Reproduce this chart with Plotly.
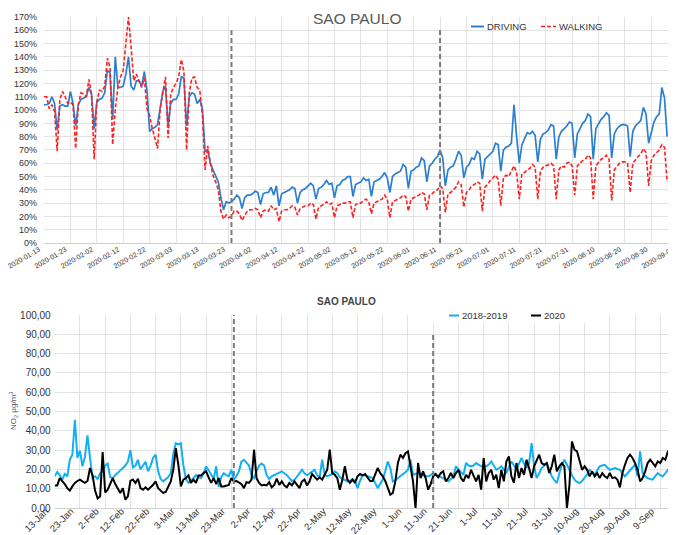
import plotly.graph_objects as go
import pandas as pd

# ---------------- DATA ----------------
top_start = "2020-01-13"
driving = [104, 104, 105, 110, 105, 85, 103, 104, 103, 103, 114, 105, 88, 104, 108, 109, 110, 117, 112, 86,
           106, 108, 109, 113, 130, 128, 93, 140, 117, 117, 118, 127, 140, 118, 115, 122, 122, 118, 129, 115,
           84, 86, 87, 89, 101, 114, 118, 88, 105, 108, 108, 112, 125, 124, 88, 110, 113, 112, 105, 108,
           101, 69, 70, 60, 55, 50, 46, 34, 25, 31, 30, 31, 33, 36, 34,
           26, 34, 36, 36, 37, 39, 38,
           29, 37, 38, 38, 42, 36, 43,
           28, 37, 38, 39, 40, 42, 41,
           30, 38, 40, 41, 43, 45, 43,
           33, 41, 42, 44, 47, 44, 45,
           34, 43, 44, 47, 48, 50, 50,
           35, 44, 45, 46, 49, 47, 48,
           35, 46, 47, 48, 50, 53, 49,
           38, 50, 52, 53, 54, 59, 57,
           41, 54, 55, 57, 58, 64, 62,
           46, 58, 60, 63, 65, 70, 64,
           43, 55, 57, 58, 63, 69, 66,
           49, 57, 59, 64, 63, 69, 67,
           48, 63, 65, 67, 69, 75, 74,
           54, 70, 72, 73, 75, 104, 80,
           60, 74, 78, 83, 82, 84, 81,
           61, 78, 82, 83, 85, 89, 88,
           63, 80, 84, 86, 88, 91, 90,
           64, 82, 86, 90, 92, 97, 95,
           63, 86, 90, 93, 95, 98, 96,
           64, 82, 86, 88, 89, 89, 88,
           65, 84, 88, 90, 92, 102, 97,
           75, 84, 91, 95, 97, 117, 109, 80]
walking = [110, 110, 101, 104, 99, 69, 108, 114, 110, 105, 106, 104, 71, 104, 113, 112, 110, 123, 112, 63,
           106, 115, 114, 118, 139, 132, 74, 101, 117, 125, 130, 153, 170, 147, 122, 127, 122, 117, 124, 101,
           96, 86, 79, 71, 101, 114, 125, 79, 112, 117, 120, 125, 138, 129, 70, 113, 124, 125, 117, 115,
           96, 55, 73, 60, 51, 46, 40, 24, 18, 21, 19, 20, 24, 24, 22,
           17, 21, 24, 25, 25, 26, 25,
           19, 24, 25, 24, 28, 25, 26,
           16, 24, 25, 25, 26, 28, 27,
           21, 26, 27, 28, 28, 30, 29,
           18, 27, 28, 29, 31, 29, 30,
           19, 28, 29, 30, 30, 31, 31,
           19, 29, 30, 30, 32, 33, 31,
           22, 30, 31, 32, 33, 36, 33,
           19, 31, 32, 33, 34, 36, 35,
           24, 33, 34, 35, 36, 38, 37,
           25, 36, 37, 39, 40, 43, 41,
           23, 37, 38, 40, 42, 46, 44,
           27, 38, 40, 43, 44, 46, 45,
           24, 42, 44, 47, 49, 51, 48,
           28, 49, 51, 50, 54, 58, 53,
           33, 52, 53, 55, 56, 59, 57,
           33, 54, 57, 58, 59, 60, 58,
           33, 55, 58, 57, 60, 61, 58,
           36, 58, 60, 62, 63, 66, 64,
           33, 58, 61, 63, 64, 66, 63,
           32, 55, 58, 60, 61, 61, 60,
           38, 60, 63, 65, 67, 71, 68,
           43, 62, 66, 68, 70, 74, 72, 46]

bottom_start = "2020-01-13"
no2_2018_2019 = [16.4, 18.6, 17, 14.7, 17.6, 16.4, 25, 27.6, 45.7, 25.9, 29.7, 21.6, 26.7, 37.6, 25.9, 15.5, 16.4, 15, 18, 19,
                 22, 23, 16, 15.5, 17, 18.5, 19.5, 20.7, 22, 24, 30, 21, 22, 25, 20, 22, 24, 19, 22, 26,
                 27.6, 19, 15, 13.8, 15, 16, 18, 28, 33.6, 33, 33.6, 22, 15, 13, 14, 15.5, 17, 16, 15.5, 18,
                 21.6, 19.5, 17, 15, 21.6, 11, 16, 18, 17, 16.5, 19.8, 14.7, 16.5, 19, 24, 25, 23.5, 22, 17, 15.5,
                 19, 22, 23, 22, 17, 15, 16.4, 17, 18, 18.5, 19, 18, 17, 15.5, 14, 14.5, 16, 18, 19.8, 18,
                 17, 18, 19, 19.8, 17, 16, 25, 17, 16.5, 17, 17.5, 19, 18, 16, 15, 14.5, 13.8, 14, 15, 14,
                 10.3, 14, 16.9, 17, 16.4, 16, 15.5, 13, 10.3, 12.5, 14.7, 19, 24.1, 20.7, 13.8, 14.5, 15.5, 16.5, 17.2, 18.5,
                 19.8, 25, 17.2, 17.5, 18.1, 17.5, 16.9, 16.5, 16.4, 17, 18.1, 17, 16.4, 16, 15.5, 14.5, 13.8, 15, 16.4, 21.6,
                 19.8, 18.5, 17.2, 23.3, 22, 21.6, 22, 23.3, 22.5, 21.6, 21.6, 21.6, 22.5, 24.1, 22, 19.8, 20.5, 21.6, 20, 18.1,
                 21, 24.1, 22, 19.8, 23, 25.9, 23, 20.7, 23.3, 33.6, 21.6, 15.5, 18, 20.7, 22, 23.3, 20, 16.4, 14.5, 12.9,
                 18, 22.4, 25, 22, 19.8, 17, 14.7, 13.5, 12.9, 14, 15.5, 17.5, 19.8, 18.5, 17.2, 19.5, 21.6, 22, 22.4, 21,
                 19.8, 20.2, 20.7, 20.2, 19.8, 18, 16.4, 18, 19.8, 21, 22.4, 16.4, 29.3, 18.1, 16.5, 15.5, 15, 14.7, 16.5, 18.1,
                 17, 16.4, 18, 19.8, 20.5, 21.6, 19, 17.2, 19.8]
no2_2020 = [11.7, 11.7, 15.5, 14, 12.4, 10.3, 9, 11.2, 13, 14, 14.7, 13.8, 13, 14, 20.7, 17, 9, 5, 6, 29,
            8, 9.5, 13, 15.5, 12.4, 10.3, 7.8, 10.3, 4.3, 6, 14, 14.7, 13, 15.2, 10.3, 9.5, 10.7, 9.5, 10.7, 12,
            13.8, 10.3, 9, 7.8, 8.3, 11.2, 13.8, 19.8, 31, 22.4, 11.2, 14.7, 15.5, 16.9, 13, 14.7, 13, 16.9, 16.9, 18.1,
            19, 15.9, 13, 15.5, 12.4, 15.5, 11.2, 11.2, 11.7, 12, 15.5, 13.8, 14, 13, 12.4, 10.3, 13.4, 13, 14.7, 30.2,
            15.5, 13, 11.7, 12, 11.7, 13.4, 10.7, 12, 15.2, 12, 13.8, 11.7, 10.7, 13, 11.7, 13.8, 11.7, 10.3, 13.8, 14.7,
            11.7, 13.8, 17.6, 16.4, 14.7, 15.9, 14.7, 17.2, 19.8, 30.2, 18.1, 17.2, 15.5, 9.5, 14.7, 21.6, 14.7, 13, 14.7, 13,
            16.4, 17.6, 16.9, 17.6, 15.5, 14, 14, 17.2, 20.7, 18.1, 16.4, 14, 10.3, 6.9, 7.8, 13.8, 23.3, 27.6, 25.9, 28.4,
            29.3, 22.4, 13.8, 0, 23.3, 15.5, 19, 15.5, 9.5, 12.4, 16.4, 17.6, 15.9, 18.1, 19, 13.8, 15.5, 18.1, 15.5, 18.1,
            19.8, 15.5, 13.8, 17.2, 15.5, 19.8, 16.4, 13.8, 17.2, 9.5, 25.9, 13.8, 18.1, 19.8, 14.7, 17.2, 10.3, 19.8, 13.8, 24.1,
            26.7, 16.4, 13, 23.3, 15.5, 20.7, 17.2, 25, 20.7, 15.5, 21.6, 25, 27.6, 23.3, 22.4, 23.3, 18.1, 21.6, 27.6, 19,
            21.6, 23.3, 21.6, 0, 12, 34.5, 30.2, 29.3, 24.1, 19.8, 21.6, 19.8, 16.4, 19, 16.4, 18.1, 15.5, 18.1, 16.4, 15.5,
            18.1, 15.5, 15.9, 14.7, 10.7, 18.1, 22.4, 25.9, 27.6, 25.9, 23.3, 19.8, 13.8, 15.5, 19, 23.3, 25, 23.3, 21.6, 24.1,
            23.3, 25.9, 25, 29.3, 31, 26.7, 19.8, 25, 19.8]

top_tick_dates = ["2020-01-13", "2020-01-23", "2020-02-02", "2020-02-12", "2020-02-22", "2020-03-03",
                  "2020-03-13", "2020-03-23", "2020-04-02", "2020-04-12", "2020-04-22", "2020-05-02",
                  "2020-05-12", "2020-05-22", "2020-06-01", "2020-06-11", "2020-06-21", "2020-07-01",
                  "2020-07-11", "2020-07-21", "2020-07-31", "2020-08-10", "2020-08-20", "2020-08-30",
                  "2020-09-09"]
bottom_tick_labels = ["13-Jan", "23-Jan", "2-Feb", "12-Feb", "22-Feb", "3-Mar", "13-Mar", "23-Mar",
                      "2-Apr", "12-Apr", "22-Apr", "2-May", "12-May", "22-May", "1-Jun", "11-Jun",
                      "21-Jun", "1-Jul", "11-Jul", "21-Jul", "31-Jul", "10-Aug", "20-Aug", "30-Aug", "9-Sep"]
event_dates = ["2020-03-24", "2020-06-11"]

top_range = ["2020-01-13", "2020-09-10 06:00"]
bottom_range = ["2020-01-13", "2020-09-17 05:00"]

# ---------------- FIGURE ----------------
W, H = 676, 535
FONT = "Liberation Sans, Arial, Helvetica, sans-serif"
BLUE = "#2b7fd0"
RED = "#ff2020"
LBLUE = "#12b0f2"
GRID = "#e3e3e3"

top_x = pd.date_range(top_start, periods=len(driving), freq="D")
bot_x = pd.date_range(bottom_start, periods=len(no2_2020), freq="D")

fig = go.Figure()
fig.add_trace(go.Scatter(x=top_x, y=driving, mode="lines", name="DRIVING",
                         line=dict(color=BLUE, width=1.7), xaxis="x", yaxis="y"))
fig.add_trace(go.Scatter(x=top_x, y=walking, mode="lines", name="WALKING",
                         line=dict(color=RED, width=1.6, dash="4px,2px"), xaxis="x", yaxis="y"))
fig.add_trace(go.Scatter(x=bot_x, y=no2_2018_2019, mode="lines", name="2018-2019",
                         line=dict(color=LBLUE, width=2), xaxis="x2", yaxis="y2"))
fig.add_trace(go.Scatter(x=bot_x, y=no2_2020, mode="lines", name="2020",
                         line=dict(color="#000000", width=2), xaxis="x2", yaxis="y2"))


def px(x):
    return x / W


def py(y):
    return 1 - y / H


tick_font = dict(family=FONT, size=9, color="#333333")

fig.update_layout(
    width=W, height=H, autosize=False,
    margin=dict(l=0, r=0, t=0, b=0),
    paper_bgcolor="white", plot_bgcolor="white",
    showlegend=False,
    separators=",.",
    font=dict(family=FONT, color="#333333"),
    xaxis=dict(domain=[px(36), px(673)], range=top_range, type="date",
               tickvals=top_tick_dates, ticktext=top_tick_dates, tickangle=-30,
               tickfont=dict(family=FONT, size=7, color="#333333"),
               showgrid=True, gridcolor=GRID, gridwidth=1, zeroline=False,
               showline=True, linecolor="#d0d0d0", automargin=False, anchor="y",
               ticklabelshift=-5, ticklabelstandoff=-1, ticklabeloverflow="allow"),
    yaxis=dict(domain=[py(235), py(9)], range=[0, 170], dtick=10, ticksuffix="%",
               tickfont=tick_font, showgrid=True, gridcolor=GRID, gridwidth=1,
               zeroline=False, automargin=False, anchor="x", ticklabelstandoff=6),
    xaxis2=dict(domain=[px(46.7), px(673)], range=bottom_range, type="date",
                tickvals=top_tick_dates, ticktext=bottom_tick_labels, tickangle=-45,
                tickfont=dict(family=FONT, size=9.5, color="#333333"),
                showgrid=True, gridcolor=GRID, gridwidth=1, zeroline=False,
                showline=True, linecolor="#d0d0d0", automargin=False, anchor="y2",
                ticklabelshift=-9, ticklabelstandoff=-7, ticklabeloverflow="allow"),
    yaxis2=dict(domain=[py(500), py(307)], range=[0, 100], dtick=10, tickformat=".2f",
                tickfont=dict(family=FONT, size=10, color="#333333"),
                showgrid=True, gridcolor=GRID, gridwidth=1, zeroline=False,
                automargin=False, anchor="x2", ticklabelstandoff=3),
)

shapes = []
for d in event_dates:
    shapes.append(dict(type="line", xref="x", yref="y", x0=d, x1=d, y0=0, y1=160,
                       line=dict(color="#7a7a7a", width=2, dash="5px,3px")))
shapes.append(dict(type="line", xref="x2", yref="y2", x0=event_dates[0], x1=event_dates[0], y0=0, y1=100,
                   line=dict(color="#7a7a7a", width=2, dash="5px,3px")))
shapes.append(dict(type="line", xref="x2", yref="y2", x0=event_dates[1], x1=event_dates[1], y0=0, y1=90,
                   line=dict(color="#7a7a7a", width=2, dash="5px,3px")))

# legend box (bottom) white background
shapes.append(dict(type="rect", xref="paper", yref="paper", x0=px(415), x1=px(580), y0=py(315), y1=py(300),
                   fillcolor="white", line=dict(width=0), layer="above"))
# legend line samples
shapes.append(dict(type="line", xref="paper", yref="paper", x0=px(463), x1=px(476), y0=py(18.5), y1=py(18.5),
                   line=dict(color=BLUE, width=2)))
shapes.append(dict(type="line", xref="paper", yref="paper", x0=px(533), x1=px(548), y0=py(18.5), y1=py(18.5),
                   line=dict(color=RED, width=1.6, dash="4px,2px")))
shapes.append(dict(type="line", xref="paper", yref="paper", x0=px(441), x1=px(451), y0=py(307.5), y1=py(307.5),
                   line=dict(color=LBLUE, width=2), layer="above"))
shapes.append(dict(type="line", xref="paper", yref="paper", x0=px(523), x1=px(533), y0=py(307.5), y1=py(307.5),
                   line=dict(color="#000000", width=2), layer="above"))
fig.update_layout(shapes=shapes)

ann = [
    dict(text="SAO PAULO", x=px(349), y=py(10.5), xref="paper", yref="paper", showarrow=False,
         xanchor="center", yanchor="middle", font=dict(family=FONT, size=15.5, color="#595959")),
    dict(text="DRIVING", x=px(476.5), y=py(18.5), xref="paper", yref="paper", showarrow=False,
         xanchor="left", yanchor="middle", font=dict(family=FONT, size=9.5, color="#333333")),
    dict(text="WALKING", x=px(548.5), y=py(18.5), xref="paper", yref="paper", showarrow=False,
         xanchor="left", yanchor="middle", font=dict(family=FONT, size=9.5, color="#333333")),
    dict(text="<b>SAO PAULO</b>", x=px(339), y=py(293.5), xref="paper", yref="paper", showarrow=False,
         xanchor="center", yanchor="middle", font=dict(family=FONT, size=10, color="#444444")),
    dict(text="2018-2019", x=px(451.5), y=py(307.5), xref="paper", yref="paper", showarrow=False,
         xanchor="left", yanchor="middle", font=dict(family=FONT, size=9.5, color="#333333")),
    dict(text="2020", x=px(533.5), y=py(307.5), xref="paper", yref="paper", showarrow=False,
         xanchor="left", yanchor="middle", font=dict(family=FONT, size=9.5, color="#333333")),
    dict(text="NO<sub>2</sub> μg/m<sup>3</sup>", x=px(5), y=py(403), xref="paper", yref="paper",
         showarrow=False, textangle=-90, xanchor="center", yanchor="middle",
         font=dict(family=FONT, size=8, color="#555555")),
]
fig.update_layout(annotations=ann)

fig.write_html("out.html")
